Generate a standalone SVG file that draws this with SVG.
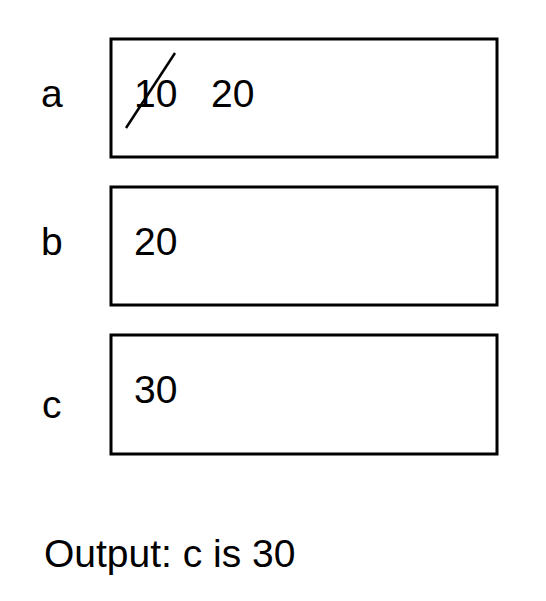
<svg xmlns="http://www.w3.org/2000/svg" width="546" height="601" viewBox="0 0 546 601">
<style>
.box{fill:#fff;stroke:#000;stroke-width:3}
text{font-family:"Liberation Sans",Arial,sans-serif;font-size:39px;fill:#000}
</style>
<rect width="546" height="601" fill="#fff"/>
<g id="label-a"><text x="41" y="107">a</text></g>
<g id="node-a">
<rect class="box" x="111" y="39" width="386" height="118"/>
<text x="134" y="107">10</text>
<text x="211" y="107">20</text>
<line x1="126" y1="128" x2="175" y2="53" stroke="#000" stroke-width="2.5"/>
</g>
<g id="label-b"><text x="41" y="255">b</text></g>
<g id="node-b">
<rect class="box" x="111" y="187" width="386" height="118"/>
<text x="134" y="255">20</text>
</g>
<g id="label-c"><text x="42" y="418">c</text></g>
<g id="node-c">
<rect class="box" x="111" y="335" width="386" height="119"/>
<text x="134" y="403">30</text>
</g>
<g id="connectors"></g>
<g id="output"><text x="44" y="567">Output: c is 30</text></g>
</svg>
